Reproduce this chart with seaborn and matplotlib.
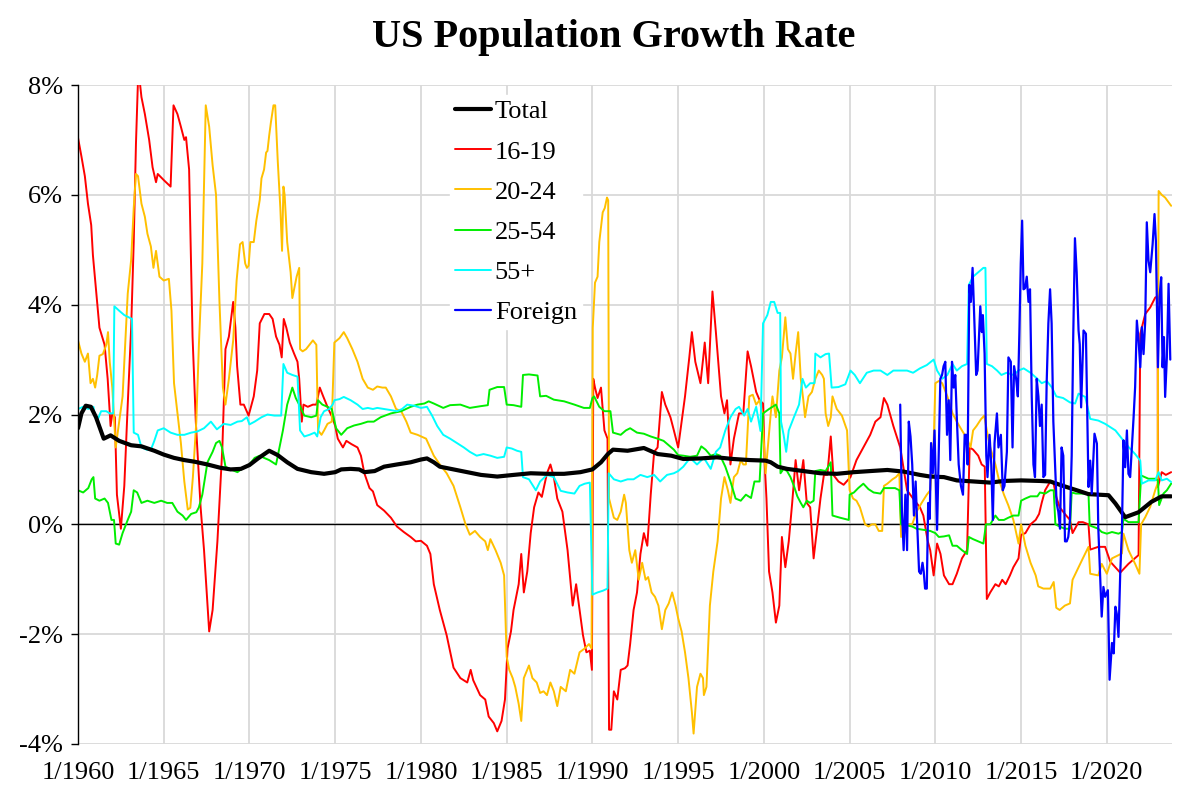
import matplotlib
matplotlib.use("Agg")
import matplotlib.pyplot as plt
import seaborn as sns

# Decimal years and growth rates (%)
total_t = [1960.0, 1960.2, 1960.45, 1960.75, 1961.05, 1961.5, 1961.9, 1962.4, 1963.1, 1963.7, 1964.45, 1965.0,
           1965.6, 1966.2, 1966.8, 1967.55, 1968.3, 1968.9, 1969.5, 1970.0, 1970.5, 1971.15, 1971.65, 1972.2,
           1972.8, 1973.6, 1974.35, 1975.0, 1975.35, 1975.9, 1976.4, 1976.7, 1977.3, 1977.85, 1978.6, 1979.4,
           1980.0, 1980.35, 1980.75, 1981.1, 1981.9, 1982.7, 1983.5, 1984.45, 1985.4, 1986.4, 1987.35, 1988.35,
           1989.3, 1990.0, 1990.5, 1990.9, 1991.2, 1992.05, 1993.0, 1993.8, 1994.6, 1995.3, 1996.3, 1997.25,
           1998.2, 1999.2, 2000.1, 2000.4, 2000.8, 2001.35, 2002.3, 2003.3, 2004.25, 2005.25, 2006.2, 2007.2,
           2008.15, 2009.1, 2009.7, 2010.5, 2011.25, 2012.25, 2013.2, 2014.0, 2015.0, 2016.1, 2016.7, 2017.45,
           2018.35, 2018.93, 2020.1, 2020.5, 2021.07, 2021.85, 2022.6, 2023.2, 2023.75]
total_v = [1.75, 2.02, 2.16, 2.14, 1.95, 1.56, 1.62, 1.52, 1.44, 1.42, 1.34, 1.27,
           1.21, 1.17, 1.14, 1.09, 1.03, 1.0, 1.01, 1.08, 1.2, 1.34, 1.26, 1.13,
           1.01, 0.95, 0.92, 0.95, 1.0, 1.01, 1.0, 0.95, 0.97, 1.05, 1.09, 1.13,
           1.18, 1.2, 1.13, 1.05, 1.0, 0.95, 0.9, 0.87, 0.9, 0.93, 0.92, 0.92,
           0.95, 1.0, 1.13, 1.28, 1.36, 1.34, 1.39, 1.28, 1.25, 1.19, 1.2, 1.22,
           1.19, 1.17, 1.16, 1.13, 1.05, 1.01, 0.97, 0.93, 0.92, 0.95, 0.97, 0.99,
           0.96, 0.9, 0.87, 0.86, 0.8, 0.78, 0.76, 0.79, 0.8, 0.79, 0.78, 0.7,
           0.61, 0.55, 0.53, 0.38, 0.13, 0.22, 0.41, 0.51, 0.51]

teen_t = [1960.0, 1960.2, 1960.4, 1960.58, 1960.77, 1960.87, 1961.05, 1961.25, 1961.55, 1961.73, 1961.9, 1962.0,
          1962.15, 1962.27, 1962.5, 1962.7, 1962.9, 1963.1, 1963.25, 1963.38, 1963.52, 1963.7, 1963.9, 1964.15,
          1964.35, 1964.55, 1964.65, 1965.03, 1965.4, 1965.57, 1965.8, 1966.0, 1966.2, 1966.3, 1966.48, 1966.68,
          1966.87, 1967.15, 1967.35, 1967.65, 1967.85, 1968.13, 1968.42, 1968.6, 1968.8, 1969.05, 1969.18, 1969.28,
          1969.47, 1969.67, 1969.95, 1970.25, 1970.45, 1970.6, 1970.87, 1971.15, 1971.35, 1971.55, 1971.75, 1971.88,
          1972.0, 1972.15, 1972.35, 1972.6, 1972.8, 1972.9, 1973.05, 1973.15, 1973.4, 1973.7, 1973.9, 1974.1,
          1974.3, 1974.6, 1974.83, 1975.0, 1975.15, 1975.45, 1975.65, 1975.95, 1976.3, 1976.5, 1976.7, 1977.0,
          1977.2, 1977.45, 1977.85, 1978.25, 1978.6, 1979.0, 1979.4, 1979.7, 1980.0, 1980.35, 1980.55, 1980.75,
          1981.1, 1981.5, 1981.9, 1982.3, 1982.7, 1982.9, 1983.05, 1983.45, 1983.75, 1983.95, 1984.25, 1984.45,
          1984.7, 1984.9, 1985.05, 1985.25, 1985.4, 1985.7, 1985.85, 1986.0, 1986.2, 1986.4, 1986.6, 1986.85,
          1987.05, 1987.35, 1987.55, 1987.75, 1987.95, 1988.25, 1988.55, 1988.85, 1989.05, 1989.25, 1989.45, 1989.65,
          1989.85, 1989.97, 1990.05, 1990.15, 1990.3, 1990.5, 1990.7, 1990.88, 1990.97, 1991.1, 1991.25, 1991.45,
          1991.65, 1991.9, 1992.05, 1992.2, 1992.4, 1992.6, 1992.8, 1993.0, 1993.2, 1993.4, 1993.6, 1993.8,
          1994.05, 1994.25, 1994.55, 1994.75, 1995.0, 1995.2, 1995.4, 1995.65, 1995.8, 1996.0, 1996.3, 1996.45,
          1996.55, 1996.75, 1997.0, 1997.2, 1997.5, 1997.7, 1997.85, 1998.05, 1998.25, 1998.55, 1998.8, 1999.05,
          1999.25, 1999.55, 1999.75, 1999.95, 2000.05, 2000.15, 2000.3, 2000.5, 2000.7, 2000.9, 2001.05, 2001.25,
          2001.45, 2001.65, 2001.85, 2002.05, 2002.3, 2002.5, 2002.7, 2002.9, 2003.1, 2003.3, 2003.5, 2003.7,
          2003.9, 2004.05, 2004.35, 2004.65, 2005.05, 2005.4, 2005.8, 2006.2, 2006.5, 2006.8, 2007.0, 2007.2,
          2007.55, 2007.95, 2008.35, 2008.7, 2009.1, 2009.3, 2009.55, 2009.7, 2009.9, 2010.1, 2010.3, 2010.5,
          2010.8, 2011.0, 2011.25, 2011.55, 2011.85, 2012.0, 2012.2, 2012.5, 2012.7, 2012.88, 2013.0, 2013.2,
          2013.5, 2013.7, 2013.9, 2014.1, 2014.35, 2014.55, 2014.85, 2015.0, 2015.25, 2015.55, 2015.85, 2016.05,
          2016.2, 2016.4, 2016.7, 2016.9, 2017.05, 2017.25, 2017.55, 2017.85, 2018.0, 2018.35, 2018.6, 2018.93,
          2019.03, 2019.5, 2019.9, 2020.2, 2020.78, 2021.26, 2021.85, 2021.95, 2022.24, 2022.53, 2022.82, 2022.96,
          2022.98, 2023.2, 2023.44, 2023.75]
teen_v = [7.04, 6.7, 6.34, 5.84, 5.45, 4.9, 4.28, 3.58, 3.27, 2.65, 1.79, 2.02,
          1.95, 0.54, -0.08, 0.7, 2.18, 3.58, 5.14, 6.93, 8.3, 7.78, 7.47, 7.0,
          6.5, 6.23, 6.38, 6.26, 6.15, 7.63, 7.47, 7.24, 7.0, 7.05, 6.46, 3.42,
          1.87, 0.31, -0.47, -1.95, -1.56, -0.31, 1.4, 3.19, 3.42, 4.05, 3.58, 2.88,
          2.18, 2.18, 1.98, 2.33, 2.8, 3.66, 3.83, 3.83, 3.74, 3.42, 3.27, 3.04,
          3.74, 3.58, 3.31, 3.11, 2.96, 2.65, 1.87, 2.18, 2.14, 2.18, 2.18, 2.49,
          2.33, 2.1, 1.95, 1.79, 1.56, 1.4, 1.52, 1.46, 1.4, 1.25, 0.93, 0.66,
          0.6, 0.35, 0.25, 0.12, -0.04, -0.14, -0.23, -0.31, -0.3, -0.39, -0.54, -1.09,
          -1.56, -2.02, -2.61, -2.8, -2.88, -2.65, -2.84, -3.11, -3.19, -3.5, -3.62, -3.77,
          -3.58, -3.19, -2.26, -1.95, -1.56, -1.09, -0.54, -1.24, -0.86, -0.16, 0.31, 0.58,
          0.5, 0.93, 1.09, 0.86, 0.47, 0.23, -0.47, -1.48, -1.09, -1.56, -2.02, -2.33,
          -2.3, -2.65, 2.65, 2.49, 2.3, 2.49, 1.71, 1.56, -3.74, -3.74, -3.04, -3.19,
          -2.65, -2.62, -2.57, -2.18, -1.56, -1.24, -0.54, -0.16, -0.39, 0.54, 1.32, 1.4,
          2.41, 2.18, 1.95, 1.71, 1.4, 1.87, 2.33, 3.04, 3.5, 2.96, 2.57, 3.0,
          3.31, 2.57, 4.24, 3.5, 2.33, 2.02, 2.26, 1.09, 1.56, 2.02, 2.02, 3.15,
          2.88, 2.41, 2.26, 2.2, 1.09, 0.47, -0.86, -1.24, -1.79, -1.48, -0.23, -0.78,
          -0.31, 0.39, 1.17, 0.62, 1.17, 0.39, 0.31, -0.62, -0.08, 0.47, 0.9, 0.9,
          1.6, 0.9, 0.78, 0.72, 0.86, 1.17, 1.4, 1.63, 1.87, 1.95, 2.3, 2.18,
          1.79, 1.4, 0.62, 0.47, 0.31, 0.16, -0.3, -0.47, -0.93, -0.35, -0.54, -0.93,
          -1.09, -1.09, -0.9, -0.62, -0.47, 1.4, 1.36, 1.25, 1.09, 1.05, -1.36, -1.24,
          -1.09, -1.13, -1.01, -1.09, -0.93, -0.78, -0.62, -0.19, -0.16, 0.0, 0.08, 0.19,
          0.39, 0.62, 0.78, 0.74, 0.5, 0.31, 0.19, 0.08, -0.16, 0.04, 0.04, 0.0,
          -0.46, -0.41, -0.41, -0.68, -0.88, -0.72, -0.56, 3.47, 3.83, 3.95, 4.13, 4.15,
          0.68, 0.95, 0.9, 0.95]

young_t = [1960.0, 1960.2, 1960.4, 1960.58, 1960.73, 1960.87, 1961.0, 1961.12, 1961.25, 1961.45, 1961.65, 1961.75,
           1961.85, 1962.0, 1962.2, 1962.4, 1962.6, 1962.9, 1963.1, 1963.25, 1963.38, 1963.5, 1963.7, 1963.9,
           1964.05, 1964.25, 1964.4, 1964.55, 1964.75, 1965.0, 1965.3, 1965.45, 1965.6, 1965.8, 1966.0, 1966.2,
           1966.4, 1966.55, 1966.7, 1966.9, 1967.05, 1967.25, 1967.45, 1967.65, 1967.85, 1968.05, 1968.25, 1968.45,
           1968.6, 1968.8, 1969.05, 1969.25, 1969.45, 1969.6, 1969.75, 1969.85, 1969.95, 1970.05, 1970.25, 1970.4,
           1970.6, 1970.7, 1970.85, 1970.97, 1971.05, 1971.15, 1971.25, 1971.4, 1971.5, 1971.65, 1971.8, 1971.9,
           1971.98, 1972.05, 1972.2, 1972.4, 1972.5, 1972.6, 1972.75, 1972.9, 1972.95, 1973.1, 1973.3, 1973.5,
           1973.7, 1973.9, 1974.0, 1974.2, 1974.35, 1974.55, 1974.8, 1974.95, 1975.25, 1975.5, 1975.7, 1976.0,
           1976.3, 1976.6, 1976.9, 1977.2, 1977.45, 1977.75, 1977.95, 1978.25, 1978.55, 1978.85, 1979.15, 1979.4,
           1979.8, 1980.3, 1980.75, 1981.1, 1981.5, 1981.9, 1982.3, 1982.6, 1982.85, 1983.15, 1983.45, 1983.75,
           1983.9, 1984.05, 1984.35, 1984.65, 1984.85, 1985.0, 1985.15, 1985.35, 1985.5, 1985.7, 1985.85, 1986.0,
           1986.3, 1986.5, 1986.75, 1986.95, 1987.15, 1987.35, 1987.55, 1987.75, 1987.95, 1988.15, 1988.45, 1988.7,
           1988.95, 1989.25, 1989.55, 1989.8, 1989.95, 1990.02, 1990.15, 1990.3, 1990.4, 1990.6, 1990.72, 1990.85,
           1990.92, 1990.97, 1991.1, 1991.25, 1991.45, 1991.65, 1991.85, 1991.95, 1992.15, 1992.3, 1992.5, 1992.7,
           1992.9, 1993.1, 1993.25, 1993.45, 1993.65, 1993.85, 1994.05, 1994.25, 1994.45, 1994.65, 1994.85, 1995.0,
           1995.2, 1995.4, 1995.6, 1995.8, 1995.9, 1996.1, 1996.3, 1996.45, 1996.5, 1996.65, 1996.85, 1997.05,
           1997.3, 1997.5, 1997.7, 1997.9, 1998.05, 1998.25, 1998.45, 1998.65, 1998.8, 1998.95, 1999.15, 1999.35,
           1999.55, 1999.75, 1999.9, 2000.1, 2000.4, 2000.5, 2000.7, 2000.9, 2001.05, 2001.25, 2001.4, 2001.55,
           2001.7, 2001.85, 2002.0, 2002.15, 2002.3, 2002.4, 2002.6, 2002.8, 2003.0, 2003.2, 2003.4, 2003.5,
           2003.6, 2003.75, 2003.9, 2004.0, 2004.25, 2004.55, 2004.85, 2005.0, 2005.2, 2005.4, 2005.6, 2005.9,
           2006.1, 2006.3, 2006.5, 2006.7, 2006.9, 2007.0, 2007.2, 2007.5, 2007.7, 2007.9, 2008.0, 2008.2,
           2008.4, 2008.65, 2008.9, 2009.2, 2009.5, 2009.7, 2009.9, 2010.0, 2010.2, 2010.4, 2010.7, 2011.0,
           2011.25, 2011.55, 2011.85, 2012.05, 2012.2, 2012.4, 2012.65, 2012.85, 2013.0, 2013.2, 2013.5, 2013.7,
           2014.0, 2014.25, 2014.55, 2014.85, 2015.0, 2015.25, 2015.55, 2015.85, 2016.0, 2016.3, 2016.7, 2016.9,
           2017.05, 2017.25, 2017.55, 2017.85, 2018.0, 2018.35, 2018.6, 2018.93, 2019.03, 2019.5, 2019.7, 2020.0,
           2020.3, 2020.68, 2020.88, 2020.97, 2021.26, 2021.65, 2021.9, 2022.0, 2022.24, 2022.53, 2022.82, 2022.96,
           2023.02, 2023.2, 2023.4, 2023.75]
young_v = [3.35, 3.11, 2.96, 3.11, 2.57, 2.65, 2.49, 2.72, 3.07, 3.1, 3.27, 3.5,
           2.96, 2.49, 1.4, 1.87, 2.33, 4.2, 4.82, 5.76, 6.38, 6.34, 5.84, 5.6,
           5.29, 5.06, 4.67, 4.98, 4.51, 4.44, 4.47, 3.89, 2.57, 2.02, 1.48, 0.78,
           0.27, 0.3, 0.86, 1.87, 3.27, 4.75, 7.63, 7.24, 6.54, 6.0, 4.05, 2.49,
           2.18, 2.65, 3.35, 4.44, 5.1, 5.14, 4.75, 4.67, 4.71, 5.14, 5.14, 5.53,
           5.91, 6.3, 6.46, 6.77, 6.8, 7.08, 7.32, 7.63, 7.63, 6.61, 5.76, 4.98,
           6.15, 6.0, 5.14, 4.59, 4.12, 4.28, 4.51, 4.67, 3.19, 3.15, 3.19, 3.27,
           3.35, 3.27, 1.71, 1.63, 1.71, 1.83, 1.87, 3.31, 3.39, 3.5, 3.39, 3.19,
           2.96, 2.65, 2.49, 2.45, 2.51, 2.49, 2.49, 2.33, 2.1, 2.06, 1.87, 1.67,
           1.63, 1.56, 1.25, 1.09, 0.93, 0.7, 0.31, 0.0, -0.19, -0.12, -0.23, -0.31,
           -0.47, -0.27, -0.47, -0.7, -0.93, -2.41, -2.65, -2.8, -2.96, -3.27, -3.58, -2.8,
           -2.57, -2.8, -2.88, -3.07, -3.04, -3.11, -2.88, -3.04, -3.31, -2.96, -3.04, -2.65,
           -2.72, -2.33, -2.26, -2.18, -2.26, 3.58, 4.4, 4.51, 5.14, 5.68, 5.76, 5.95,
           5.9, 0.47, 0.31, 0.12, 0.08, 0.23, 0.54, 0.39, -0.47, -0.7, -0.47, -1.01,
           -0.7, -1.01, -0.96, -1.24, -1.32, -1.48, -1.91, -1.56, -1.44, -1.24, -1.48, -1.71,
           -1.95, -2.33, -2.8, -3.42, -3.81, -2.96, -2.72, -2.8, -3.11, -2.96, -1.48, -0.86,
           -0.31, 0.47, 0.86, 0.62, 0.39, 0.86, 0.93, 1.17, 1.09, 1.09, 2.33, 2.36,
           2.18, 2.26, 2.02, 0.93, 2.02, 2.33, 1.95, 2.8, 3.04, 3.77, 3.19, 3.11,
           2.65, 3.11, 3.5, 2.65, 2.26, 1.95, 2.33, 2.41, 2.65, 2.8, 2.72, 2.65,
           2.02, 1.79, 1.95, 2.33, 2.1, 1.98, 1.71, 0.62, 0.47, 0.43, 0.31, 0.0,
           -0.04, 0.0, 0.0, -0.12, -0.12, 0.7, 0.74, 0.82, 0.86, 0.93, -0.23, -0.16,
           0.0, 0.0, 0.23, 0.39, 0.54, 0.62, 1.48, 2.57, 2.61, 2.57, 2.33, 2.02,
           1.87, 1.71, 1.56, 1.4, 1.71, 1.79, 1.91, 1.98, 1.71, 1.4, 1.09, 0.82,
           0.54, 0.35, 0.08, -0.35, 0.0, -0.39, -0.7, -0.93, -1.13, -1.17, -1.17, -1.05,
           -1.52, -1.56, -1.48, -1.44, -1.01, -0.78, -0.62, -0.41, -0.9, -0.93, -0.72, -0.9,
           -0.62, -0.56, -0.53, -0.17, -0.47, -0.72, -0.9, 0.0, 0.13, 0.32, 0.62, 0.74,
           6.07, 6.0, 5.95, 5.8]

prime_t = [1960.0, 1960.3, 1960.6, 1960.8, 1960.9, 1961.0, 1961.25, 1961.55, 1961.75, 1961.95, 1962.1, 1962.2,
           1962.4, 1962.6, 1962.9, 1963.1, 1963.25, 1963.45, 1963.7, 1964.05, 1964.45, 1964.85, 1965.2, 1965.5,
           1965.8, 1966.1, 1966.3, 1966.6, 1966.9, 1967.05, 1967.25, 1967.55, 1967.85, 1968.05, 1968.25, 1968.4,
           1968.6, 1968.9, 1969.3, 1969.55, 1969.85, 1970.0, 1970.3, 1970.6, 1970.85, 1971.15, 1971.55, 1971.75,
           1971.95, 1972.2, 1972.5, 1972.7, 1972.9, 1973.2, 1973.6, 1973.9, 1974.0, 1974.25, 1974.55, 1974.8,
           1975.05, 1975.35, 1975.7, 1976.1, 1976.5, 1976.9, 1977.25, 1977.65, 1978.25, 1978.85, 1979.4, 1979.8,
           1980.2, 1980.45, 1980.75, 1981.3, 1981.7, 1982.3, 1982.85, 1983.45, 1983.9, 1984.0, 1984.45, 1984.85,
           1985.0, 1985.4, 1985.85, 1985.95, 1986.3, 1986.8, 1986.95, 1987.3, 1987.75, 1988.35, 1988.95, 1989.5,
           1989.85, 1990.0, 1990.1, 1990.4, 1990.7, 1991.05, 1991.2, 1991.65, 1991.95, 1992.2, 1992.6, 1993.0,
           1993.4, 1993.8, 1994.15, 1994.45, 1994.75, 1995.0, 1995.3, 1995.7, 1996.1, 1996.35, 1996.6, 1996.9,
           1997.2, 1997.45, 1997.75, 1998.05, 1998.35, 1998.65, 1998.95, 1999.25, 1999.45, 1999.75, 1999.95, 2000.3,
           2000.7, 2000.9, 2000.97, 2001.15, 2001.35, 2001.55, 2001.75, 2001.95, 2002.15, 2002.3, 2002.5, 2002.7,
           2002.9, 2003.0, 2003.3, 2003.6, 2003.75, 2003.9, 2004.0, 2004.45, 2004.95, 2005.0, 2005.25, 2005.5,
           2005.8, 2006.1, 2006.4, 2006.8, 2007.0, 2007.4, 2007.65, 2007.9, 2008.0, 2008.35, 2008.65, 2008.9,
           2009.3, 2009.7, 2010.0, 2010.2, 2010.5, 2010.8, 2011.0, 2011.25, 2011.55, 2011.85, 2011.95, 2012.2,
           2012.5, 2012.8, 2012.95, 2013.2, 2013.5, 2013.7, 2014.0, 2014.25, 2014.55, 2014.85, 2015.0, 2015.25,
           2015.55, 2015.95, 2016.1, 2016.4, 2016.7, 2016.9, 2017.0, 2017.25, 2017.55, 2017.85, 2017.95, 2018.2,
           2018.6, 2018.93, 2019.0, 2019.5, 2019.7, 2020.0, 2020.3, 2020.68, 2020.88, 2020.97, 2021.26, 2021.85,
           2022.0, 2022.43, 2022.82, 2022.98, 2023.05, 2023.3, 2023.5, 2023.75]
prime_v = [0.62, 0.58, 0.66, 0.82, 0.86, 0.47, 0.43, 0.47, 0.39, 0.08, 0.08, -0.35,
           -0.37, -0.16, 0.08, 0.23, 0.62, 0.58, 0.39, 0.43, 0.39, 0.43, 0.39, 0.39,
           0.23, 0.16, 0.08, 0.19, 0.22, 0.31, 0.54, 1.13, 1.32, 1.48, 1.52, 1.4,
           1.05, 1.0, 0.95, 1.01, 1.05, 1.09, 1.21, 1.25, 1.21, 1.17, 1.09, 1.4,
           1.71, 2.18, 2.49, 2.3, 2.18, 1.98, 1.95, 1.98, 2.26, 2.18, 2.14, 2.1,
           1.75, 1.63, 1.75, 1.8, 1.83, 1.87, 1.87, 1.95, 2.02, 2.06, 2.14, 2.18,
           2.2, 2.24, 2.2, 2.12, 2.17, 2.18, 2.12, 2.15, 2.17, 2.45, 2.5, 2.5,
           2.18, 2.17, 2.14, 2.72, 2.73, 2.71, 2.33, 2.34, 2.27, 2.24, 2.18, 2.12,
           2.12, 2.3, 2.33, 2.14, 2.06, 2.06, 1.67, 1.63, 1.71, 1.75, 1.67, 1.65,
           1.6, 1.56, 1.52, 1.44, 1.36, 1.26, 1.25, 1.23, 1.25, 1.42, 1.36, 1.25,
           1.28, 1.25, 1.05, 0.78, 0.47, 0.43, 0.54, 0.48, 0.78, 0.78, 2.02, 2.1,
           2.18, 2.02, 0.93, 1.01, 0.97, 0.86, 0.7, 0.51, 0.39, 0.31, 0.43, 0.39,
           0.43, 0.97, 0.99, 0.97, 1.05, 1.13, 0.16, 0.12, 0.08, 0.54, 0.58, 0.66,
           0.74, 0.64, 0.58, 0.56, 0.66, 0.66, 0.66, 0.62, 0.0, -0.02, -0.04, -0.08,
           -0.1, -0.12, -0.16, -0.23, -0.22, -0.2, -0.39, -0.39, -0.47, -0.54, -0.23, -0.27,
           -0.31, -0.35, 0.0, 0.0, 0.16, 0.08, 0.08, 0.12, 0.16, 0.16, 0.43, 0.47,
           0.51, 0.51, 0.58, 0.56, 0.62, 0.62, 0.0, -0.04, -0.08, -0.08, 0.58, 0.56,
           0.56, 0.56, -0.02, -0.08, -0.14, -0.17, -0.14, -0.17, -0.14, 0.1, 0.04, 0.04,
           0.89, 0.83, 0.83, 0.8, 0.35, 0.56, 0.62, 0.74]

older_t = [1960.0, 1960.3, 1960.6, 1960.9, 1961.0, 1961.15, 1961.35, 1961.65, 1961.85, 1962.05, 1962.12, 1962.4,
           1962.7, 1962.95, 1963.15, 1963.25, 1963.5, 1963.7, 1964.0, 1964.25, 1964.45, 1964.65, 1965.0, 1965.4,
           1965.8, 1966.2, 1966.6, 1966.95, 1967.35, 1967.75, 1968.1, 1968.5, 1968.9, 1969.3, 1969.55, 1969.85,
           1970.0, 1970.3, 1970.7, 1971.05, 1971.45, 1971.85, 1971.98, 1972.2, 1972.5, 1972.8, 1972.95, 1973.2,
           1973.5, 1973.8, 1973.95, 1974.15, 1974.35, 1974.65, 1974.85, 1974.95, 1975.25, 1975.5, 1975.9, 1976.3,
           1976.6, 1976.9, 1977.2, 1977.45, 1977.85, 1978.25, 1978.6, 1978.9, 1979.2, 1979.6, 1980.0, 1980.35,
           1980.65, 1980.95, 1981.3, 1981.7, 1982.1, 1982.5, 1982.85, 1983.25, 1983.65, 1984.05, 1984.45, 1984.85,
           1985.0, 1985.3, 1985.6, 1985.85, 1985.95, 1986.3, 1986.7, 1986.95, 1987.35, 1987.75, 1988.15, 1988.55,
           1988.95, 1989.25, 1989.55, 1989.85, 1990.0, 1990.3, 1990.6, 1990.88, 1990.95, 1991.25, 1991.65, 1992.05,
           1992.4, 1992.8, 1993.2, 1993.6, 1993.95, 1994.35, 1994.75, 1995.0, 1995.3, 1995.7, 1996.1, 1996.5,
           1996.9, 1997.2, 1997.45, 1997.75, 1998.05, 1998.35, 1998.55, 1998.85, 1999.05, 1999.25, 1999.55, 1999.8,
           1999.95, 2000.2, 2000.4, 2000.6, 2000.8, 2000.95, 2001.0, 2001.15, 2001.3, 2001.45, 2001.75, 2002.05,
           2002.25, 2002.45, 2002.7, 2002.95, 2003.0, 2003.3, 2003.6, 2003.8, 2003.95, 2004.35, 2004.75, 2005.05,
           2005.3, 2005.6, 2006.0, 2006.4, 2006.8, 2007.2, 2007.55, 2007.95, 2008.35, 2008.7, 2009.1, 2009.5,
           2009.9, 2010.1, 2010.4, 2010.7, 2011.0, 2011.25, 2011.55, 2011.85, 2011.95, 2012.2, 2012.5, 2012.8,
           2012.92, 2013.0, 2013.3, 2013.6, 2013.85, 2014.15, 2014.55, 2014.85, 2015.15, 2015.55, 2015.95, 2016.2,
           2016.5, 2016.8, 2017.05, 2017.45, 2017.85, 2018.15, 2018.35, 2018.74, 2019.03, 2019.5, 2019.9, 2020.5,
           2020.88, 2021.26, 2021.65, 2021.95, 2022.04, 2022.43, 2022.82, 2023.02, 2023.2, 2023.5, 2023.75]
older_v = [2.1, 2.14, 2.1, 2.14, 1.95, 1.91, 2.06, 2.06, 2.02, 2.02, 3.97, 3.89,
           3.81, 3.77, 3.74, 1.67, 1.63, 1.4, 1.36, 1.36, 1.52, 1.71, 1.75, 1.67,
           1.63, 1.63, 1.67, 1.69, 1.75, 1.87, 1.73, 1.83, 1.81, 1.87, 1.88, 1.95,
           1.82, 1.87, 1.95, 2.0, 1.98, 1.98, 2.92, 2.76, 2.72, 2.69, 1.71, 1.6,
           1.63, 1.67, 1.6, 1.95, 2.06, 2.1, 2.18, 2.26, 2.28, 2.32, 2.26, 2.18,
           2.1, 2.12, 2.1, 2.12, 2.1, 2.08, 2.06, 2.1, 2.18, 2.16, 2.12, 2.14,
           1.98, 1.79, 1.63, 1.56, 1.48, 1.4, 1.32, 1.25, 1.28, 1.25, 1.21, 1.23,
           1.4, 1.38, 1.34, 1.32, 0.86, 0.82, 0.62, 0.78, 0.9, 0.86, 0.61, 0.58,
           0.56, 0.7, 0.74, 0.76, -1.28, -1.24, -1.21, -1.17, 0.93, 0.82, 0.78, 0.82,
           0.82, 0.9, 0.86, 0.9, 0.78, 0.9, 0.93, 0.97, 1.05, 1.21, 1.09, 1.21,
           1.01, 1.32, 1.4, 1.71, 1.95, 2.1, 2.14, 1.98, 2.1, 1.87, 2.14, 1.7,
           3.66, 3.81, 4.05, 4.05, 3.85, 3.85, 1.87, 1.63, 1.32, 1.71, 1.95, 2.18,
           2.65, 2.49, 2.57, 2.57, 3.11, 3.04, 3.1, 3.11, 2.49, 2.5, 2.55, 2.8,
           2.72, 2.57, 2.76, 2.8, 2.8, 2.72, 2.8, 2.8, 2.8, 2.76, 2.84, 2.9,
           3.0, 2.8, 2.65, 2.72, 2.92, 2.8, 2.88, 2.92, 4.36, 4.51, 4.59, 4.67,
           4.67, 2.92, 2.88, 2.8, 2.72, 2.76, 2.72, 2.8, 2.84, 2.76, 2.65, 2.57,
           2.61, 2.49, 2.33, 2.3, 2.22, 2.2, 2.38, 2.32, 1.92, 1.89, 1.83, 1.71,
           1.56, 1.41, 1.28, 1.16, 0.74, 0.8, 0.8, 0.95, 0.8, 0.83, 0.77]

foreign_t = [2007.95, 2008.05, 2008.15, 2008.25, 2008.35, 2008.45, 2008.55, 2008.65, 2008.75, 2008.85, 2008.95, 2009.05,
             2009.15, 2009.25, 2009.32, 2009.4, 2009.5, 2009.58, 2009.67, 2009.75, 2009.85, 2009.95, 2010.1, 2010.29,
             2010.39, 2010.48, 2010.58, 2010.68, 2010.78, 2010.87, 2010.97, 2011.07, 2011.16, 2011.26, 2011.36, 2011.49,
             2011.61, 2011.71, 2011.8, 2011.88, 2011.98, 2012.07, 2012.17, 2012.27, 2012.38, 2012.46, 2012.62, 2012.71,
             2012.77, 2012.87, 2012.97, 2013.04, 2013.16, 2013.26, 2013.35, 2013.45, 2013.59, 2013.68, 2013.82, 2013.93,
             2014.03, 2014.17, 2014.26, 2014.4, 2014.5, 2014.59, 2014.71, 2014.81, 2014.9, 2014.98, 2015.06, 2015.14,
             2015.23, 2015.33, 2015.43, 2015.52, 2015.62, 2015.72, 2015.81, 2015.91, 2016.01, 2016.1, 2016.2, 2016.3,
             2016.4, 2016.49, 2016.59, 2016.69, 2016.78, 2016.88, 2016.98, 2017.07, 2017.17, 2017.27, 2017.36, 2017.46,
             2017.56, 2017.66, 2017.75, 2017.85, 2017.95, 2018.04, 2018.14, 2018.24, 2018.35, 2018.42, 2018.5, 2018.64,
             2018.78, 2018.93, 2019.03, 2019.12, 2019.28, 2019.42, 2019.5, 2019.7, 2019.8, 2019.9, 2020.06, 2020.16,
             2020.3, 2020.4, 2020.5, 2020.58, 2020.68, 2020.78, 2020.88, 2020.97, 2021.07, 2021.17, 2021.26, 2021.36,
             2021.46, 2021.56, 2021.65, 2021.75, 2021.85, 2021.95, 2022.04, 2022.14, 2022.24, 2022.33, 2022.43, 2022.53,
             2022.67, 2022.78, 2022.86, 2022.98, 2023.07, 2023.17, 2023.25, 2023.33, 2023.4, 2023.5, 2023.6, 2023.7]
foreign_v = [2.18, 0.23, -0.47, 0.54, -0.47, 1.87, 1.6, 1.09, 0.16, 0.78, -0.08, -0.86,
             -0.9, -0.7, -0.86, -1.17, -1.17, 0.39, 0.1, 1.48, 0.93, 1.71, -0.1, 2.65,
             2.72, 2.88, 2.96, 1.63, 2.26, 1.17, 2.96, 2.49, 2.72, 1.87, 1.09, 0.7,
             0.54, 1.63, 1.63, 1.09, 4.36, 4.05, 4.67, 3.74, 2.72, 2.8, 3.97, 3.5,
             3.81, 3.11, 1.25, 0.86, 1.63, 1.09, 0.08, 1.48, 2.02, 1.4, 1.63, 0.62,
             0.7, 1.32, 3.04, 2.96, 1.4, 2.88, 2.65, 2.33, 3.5, 4.75, 5.53, 4.28,
             4.3, 4.51, 4.05, 4.28, 2.33, 1.09, 0.86, 2.65, 2.33, 1.79, 2.18, 0.86,
             0.9, 2.57, 3.66, 4.28, 3.66, 1.87, 1.09, 0.39, 0.23, -0.08, 1.4, 1.25,
             -0.31, -0.31, -0.23, 0.08, 1.25, 3.42, 5.21, 4.59, 3.53, 3.28, 2.13, 3.53,
             3.47, 0.68, 1.16, 0.56, 1.65, 1.47, -0.05, -1.68, -1.14, -1.32, -1.2, -2.83,
             -2.16, -2.35, -1.5, -1.63, -2.05, -0.9, -0.11, 1.53, 1.04, 1.71, 0.92, 0.86,
             1.41, 1.95, 2.5, 3.71, 3.35, 2.86, 3.59, 3.1, 3.71, 5.5, 4.8, 4.59,
             5.1, 5.65, 5.16, 2.86, 4.13, 4.5, 2.86, 3.41, 2.32, 3.04, 4.38, 3.0]

# name, times, values, colour, line width; drawn in this order (Total above the age groups)
series = [("16-19", teen_t, teen_v, "#ff0000", 1.4),
          ("20-24", young_t, young_v, "#ffc000", 1.4),
          ("25-54", prime_t, prime_v, "#00ee00", 1.4),
          ("55+", older_t, older_v, "#00ffff", 1.4),
          ("Total", total_t, total_v, "black", 3.0),
          ("Foreign", foreign_t, foreign_v, "#0000ff", 1.6)]
legend_order = ["Total", "16-19", "20-24", "25-54", "55+", "Foreign"]

sns.set_theme(style="whitegrid")
plt.rcParams['font.family'] = ['Liberation Serif', 'DejaVu Serif']

fig = plt.figure(figsize=(12, 8), dpi=100)
ax = fig.add_axes([78 / 1200, 1 - 744 / 800, (1172 - 78) / 1200, (744 - 85) / 800])

for name, t, v, color, lw in series:
    sns.lineplot(x=t, y=v, ax=ax, color=color, linewidth=lw, label=name, sort=False, estimator=None)

ax.axhline(0, color="black", linewidth=1.0, zorder=1.5)
ax.set_xlim(1960, 2023.8)
ax.set_ylim(-4, 8)
ax.set_xticks(list(range(1960, 2021, 5)))
ax.set_xticklabels([f"1/{y}" for y in range(1960, 2021, 5)])
ax.set_yticks(list(range(-4, 9, 2)))
ax.set_yticklabels([f"{v}%" for v in range(-4, 9, 2)])
ax.grid(True, color="#d9d9d9", linewidth=1.3)
ax.set_facecolor("white")
for side in ["top", "right", "bottom"]:
    ax.spines[side].set_visible(False)
ax.spines["left"].set_color("black")
ax.spines["left"].set_linewidth(1.0)
ax.tick_params(axis="y", left=True, length=5, width=1, color="black", pad=6, labelsize=19, labelcolor="black")
ax.tick_params(axis="x", bottom=False, length=0, pad=13, labelsize=19, labelcolor="black")
ax.set_xlabel("")
ax.set_ylabel("")

handles, labels = ax.get_legend_handles_labels()
lookup = dict(zip(labels, handles))
leg = ax.legend([lookup[n] for n in legend_order], legend_order,
                loc="center left", bbox_to_anchor=(450 / 1200, 1 - 212 / 800), bbox_transform=fig.transFigure,
                fontsize=19, frameon=True, facecolor="white", edgecolor="white", framealpha=1,
                handlelength=1.35, handletextpad=0.15, labelspacing=0.63, borderpad=0.2, borderaxespad=0)
leg.set_zorder(5)
for txt in leg.get_texts():
    txt.set_color("black")

fig.text(614 / 1200, 1 - 38 / 800, "US Population Growth Rate", ha="center", va="center",
         fontsize=29, fontweight="bold", color="black")

fig.savefig("out.png", dpi=100, facecolor="white")
